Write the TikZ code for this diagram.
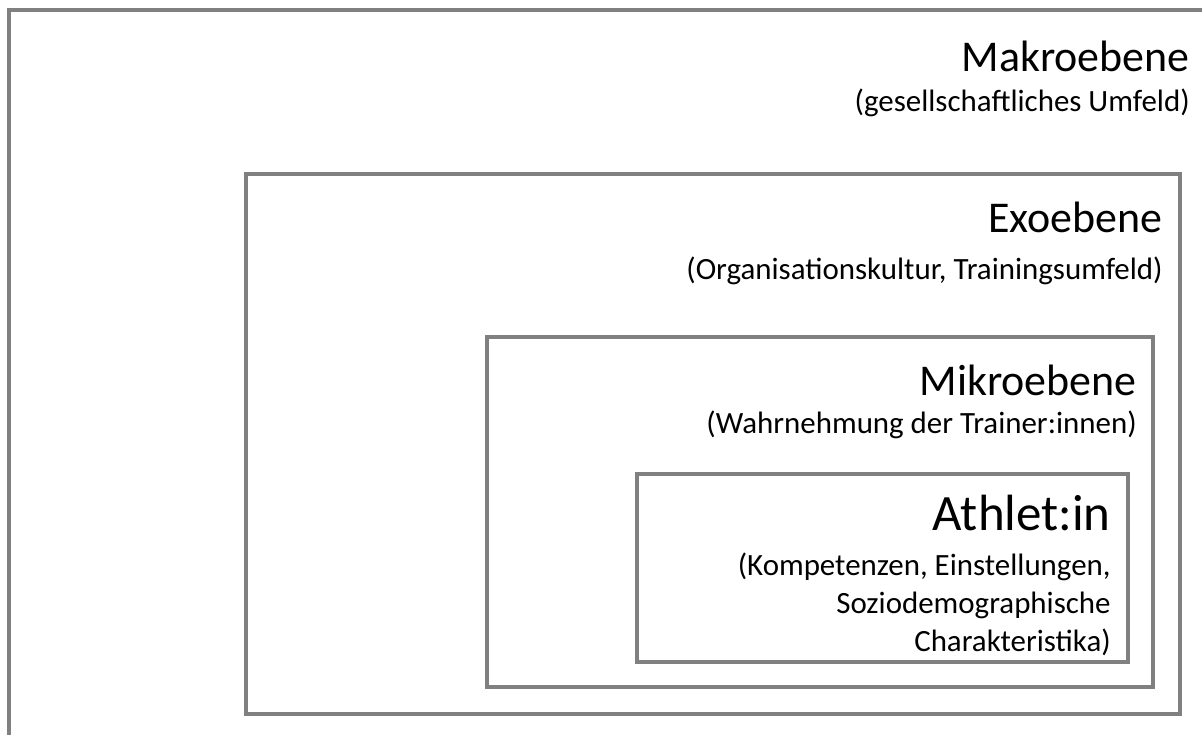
\documentclass[tikz,border=0pt]{standalone}
\usepackage{fontspec}
\setmainfont{Carlito}
\usepackage{xcolor}
\usepackage{tikz}
\usetikzlibrary{positioning}
\definecolor{framegray}{RGB}{128,128,128}

\tikzset{
	levelbox/.style={draw=framegray, line width=2.2pt},
	title/.style={anchor=base east, inner sep=0pt, font=\fontsize{25}{30}\selectfont},
	subtitle/.style={anchor=base east, inner sep=0pt, font=\fontsize{17.6}{21}\selectfont, align=right}
}

\begin{document}
\begin{tikzpicture}[x=0.02cm, y=-0.02cm]
		\fill[white] (0,0) rectangle (1202,735);
		\useasboundingbox (0,0) rectangle (1202,735);
		% Define the levels
		\draw[levelbox] (1202,10) -- (9,10) -- (9,735);
		\draw[levelbox] (246,174) rectangle (1180,714);
		\draw[levelbox] (487,337) rectangle (1153,687);
		\draw[levelbox] (637,474) rectangle (1128,662);
		
		% Label the levels
		\node (makro) [title] at (1190,71) {Makroebene};
		\node (makrosub) [subtitle] at (1190,111) {(gesellschaftliches Umfeld)};
		
		\node (exo) [title] at (1163,232) {Exoebene};
		\node (exosub) [subtitle] at (1163,279) {(Organisationskultur, Trainingsumfeld)};
		
		\node (mikro) [title] at (1137,395) {Mikroebene};
		\node (mikrosub) [subtitle] at (1137,433) {(Wahrnehmung der Trainer:innen)};
		
		\node (athlet) [title, font=\fontsize{29}{34}\selectfont] at (1111,530) {Athlet:in};
		\node (athletsub) [subtitle, font=\fontsize{17.6}{21.5}\selectfont] at (1111,651) {(Kompetenzen, Einstellungen,\\ Soziodemographische\\ Charakteristika)};
	\end{tikzpicture}
\end{document}
